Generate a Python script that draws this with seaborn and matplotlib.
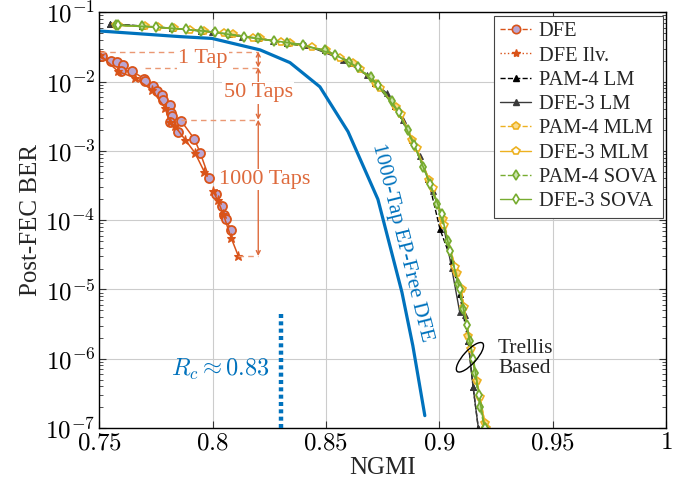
import math
import matplotlib
matplotlib.use('Agg')
import matplotlib.pyplot as plt
import seaborn as sns
from matplotlib.lines import Line2D
from matplotlib.patches import Ellipse
from matplotlib import transforms
from matplotlib.ticker import FixedLocator, FuncFormatter, LogLocator, NullFormatter

# --- data ---
# DFE (circles), several sweeps
dfe_a_x = [0.7513, 0.7551, 0.7578, 0.7604, 0.7597, 0.7642, 0.7698, 0.7701, 0.7738, 0.7753,
           0.7775, 0.7782, 0.7811, 0.7816, 0.7819, 0.7860, 0.7919, 0.7945, 0.7984]
dfe_a_y = [2.31e-2, 1.99e-2, 1.90e-2, 1.72e-2, 1.43e-2, 1.43e-2, 1.10e-2, 1.03e-2, 8.5e-3, 7.2e-3,
           6.46e-3, 5.47e-3, 4.53e-3, 3.52e-3, 3.15e-3, 2.73e-3, 1.49e-3, 9.36e-4, 4.09e-4]
dfe_b_x = [0.8014, 0.8040, 0.8051, 0.8057, 0.8081]
dfe_b_y = [2.40e-4, 1.60e-4, 1.18e-4, 1.03e-4, 7.3e-5]
dfe_c_x = [0.7811, 0.7845]
dfe_c_y = [2.61e-3, 1.88e-3]

# DFE interleaved (stars)
ilv_a_x = [0.7503, 0.7583, 0.7657, 0.7731, 0.7789, 0.7811, 0.7834, 0.7878, 0.7922, 0.7963]
ilv_a_y = [2.43e-2, 1.40e-2, 1.13e-2, 7.62e-3, 4.20e-3, 2.64e-3, 2.26e-3, 1.455e-3, 9.36e-4, 4.99e-4]
ilv_b_x = [0.8002, 0.8022, 0.8047, 0.8081, 0.8113]
ilv_b_y = [2.62e-4, 1.93e-4, 1.21e-4, 5.6e-5, 3.04e-5]

# 1000-tap EP-free DFE
ep_x = [0.7500, 0.7856, 0.7997, 0.8209, 0.8341, 0.8473, 0.8597, 0.8729, 0.8835, 0.8883, 0.8936]
ep_y = [0.0538, 0.0446, 0.0420, 0.0287, 0.0188, 8.41e-3, 1.90e-3, 2.0e-4, 9.1e-6, 1.55e-6, 1.51e-7]

# trellis based detectors
pam_lm_x = [0.7547, 0.7690, 0.7820, 0.7950, 0.8070, 0.8200, 0.8330, 0.8495, 0.8613, 0.8716,
            0.8804, 0.8878, 0.8951, 0.9003, 0.9054, 0.9090, 0.9127, 0.9149, 0.9172]
pam_lm_y = [0.0680, 0.0636, 0.0590, 0.0544, 0.0488, 0.0424, 0.0357, 0.0286, 0.0188, 9.5e-3,
            4.4e-3, 1.46e-3, 3.9e-4, 7.4e-5, 2.6e-5, 8.5e-6, 1.8e-6, 3.9e-7, 1.0e-7]
dfe3_lm_x = [0.7547, 0.7819, 0.7995, 0.8128, 0.8266, 0.8407, 0.8576, 0.8679, 0.8767, 0.8841,
             0.8914, 0.8973, 0.9010, 0.9054, 0.9090, 0.9113, 0.9127, 0.9149, 0.9172]
dfe3_lm_y = [0.0679, 0.0589, 0.0521, 0.0446, 0.0390, 0.0339, 0.0206, 0.01253, 6.84e-3, 2.82e-3,
             8.36e-4, 2.62e-4, 1.15e-4, 2.07e-5, 4.7e-6, 4.3e-6, 1.8e-6, 3.9e-7, 1.0e-7]
pam_mlm_x = [0.7572, 0.7700, 0.7830, 0.7960, 0.8090, 0.8210, 0.8340, 0.8500, 0.8620, 0.8720,
             0.8810, 0.8880, 0.8955, 0.9017, 0.9076, 0.9098, 0.9127, 0.9165, 0.9201]
pam_mlm_y = [0.0650, 0.0630, 0.0585, 0.0540, 0.0480, 0.0420, 0.0355, 0.0284, 0.0185, 9.3e-3,
             4.3e-3, 1.44e-3, 3.8e-4, 1.03e-4, 1.75e-5, 1.0e-5, 2.15e-6, 4.8e-7, 1.2e-7]
dfe3_mlm_x = [0.7580, 0.7760, 0.7900, 0.8050, 0.8180, 0.8300, 0.8440, 0.8560, 0.8650, 0.8740,
              0.8830, 0.8900, 0.8970, 0.9020, 0.9070, 0.9110, 0.9140, 0.9180, 0.9205]
dfe3_mlm_y = [0.0648, 0.0605, 0.0560, 0.0495, 0.0432, 0.0367, 0.0320, 0.0220, 0.0150, 8.2e-3,
              3.4e-3, 1.1e-3, 2.9e-4, 8.5e-5, 2.1e-5, 5.5e-6, 1.4e-6, 2.8e-7, 1.0e-7]
pam_sova_x = [0.7572, 0.7687, 0.7819, 0.7948, 0.8067, 0.8200, 0.8326, 0.8495, 0.8600, 0.8700,
              0.8790, 0.8860, 0.8930, 0.8990, 0.9039, 0.9083, 0.9105, 0.9135, 0.9157, 0.9179, 0.9201]
pam_sova_y = [0.0650, 0.0635, 0.0589, 0.0543, 0.0487, 0.0423, 0.0358, 0.0287, 0.0195, 0.0115,
              5.3e-3, 2.0e-3, 5.9e-4, 1.7e-4, 5.0e-5, 1.19e-5, 5.2e-6, 1.82e-6, 6.3e-7, 2.0e-7, 1.0e-7]
dfe3_sova_x = [0.7580, 0.7750, 0.7880, 0.8010, 0.8140, 0.8270, 0.8400, 0.8540, 0.8640, 0.8730,
               0.8820, 0.8890, 0.8960, 0.9010, 0.9047, 0.9090, 0.9120, 0.9150, 0.9175, 0.9200]
dfe3_sova_y = [0.0652, 0.0612, 0.0566, 0.0517, 0.0442, 0.0388, 0.0341, 0.0245, 0.0160, 8.8e-3,
               3.6e-3, 1.2e-3, 3.3e-4, 1.23e-4, 3.6e-5, 1.0e-5, 3.1e-6, 1.0e-6, 3.0e-7, 1.0e-7]

# tap annotation levels (BER) and code rate threshold
tap_levels = [0.0271, 0.01596, 2.82e-3, 3.04e-5]
tap_starts = [0.7503, 0.7701, 0.7860, 0.8113]
tap_x = 0.8201
rc = 0.83
rc_top = 4.8e-6

x_ticks = [0.75, 0.8, 0.85, 0.9, 0.95, 1.0]
x_tick_labels = ['0.75', '0.8', '0.85', '0.9', '0.95', '1']

RED = '#D95319'
LILAC = '#B9A6D3'
BLUE = '#0072BD'
YEL = '#EDB120'
GRN = '#77AC30'
DARK = '#3a3a3a'
ANN = '#DE6A3C'
ANN_L = '#EA9873'

sns.set_theme(style='ticks')
plt.rcParams['font.family'] = ['Liberation Serif', 'DejaVu Serif']
plt.rcParams['mathtext.fontset'] = 'cm'

fig = plt.figure(figsize=(6.94, 4.87), dpi=100)
ax = fig.add_axes([0.1432, 0.1211, 0.8164, 0.8536])
ax.set_yscale('log')


def draw(x, y, **kw):
    sns.lineplot(x=x, y=y, ax=ax, estimator=None, sort=False, errorbar=None, legend=False, **kw)


dfe_kw = dict(color=RED, linewidth=1.1, marker='o', markersize=6.5,
              markerfacecolor=LILAC, markeredgecolor=RED, markeredgewidth=1.3)
for xs, ys in [(dfe_a_x, dfe_a_y), (dfe_b_x, dfe_b_y), (dfe_c_x, dfe_c_y)]:
    draw(xs, ys, **dfe_kw)
ilv_kw = dict(color=RED, linewidth=1.1, marker='*', markersize=6.5,
              markerfacecolor=RED, markeredgecolor=RED, markeredgewidth=0.8)
for xs, ys in [(ilv_a_x, ilv_a_y), (ilv_b_x, ilv_b_y)]:
    draw(xs, ys, **ilv_kw)

draw(ep_x, ep_y, color=BLUE, linewidth=2.3)

draw(pam_lm_x, pam_lm_y, color='black', linewidth=1.0, linestyle='--', marker='^', markersize=5,
     markerfacecolor='black', markeredgecolor='black', markeredgewidth=0.6)
draw(dfe3_lm_x, dfe3_lm_y, color=DARK, linewidth=1.0, marker='^', markersize=5,
     markerfacecolor=DARK, markeredgecolor=DARK, markeredgewidth=0.6)
draw(pam_mlm_x, pam_mlm_y, color=YEL, linewidth=1.0, linestyle='--', marker='p', markersize=6,
     markerfacecolor='#F9DC8E', markeredgecolor=YEL, markeredgewidth=1.2)
draw(dfe3_mlm_x, dfe3_mlm_y, color=YEL, linewidth=1.0, marker='p', markersize=6,
     markerfacecolor='white', markeredgecolor=YEL, markeredgewidth=1.2)
draw(pam_sova_x, pam_sova_y, color=GRN, linewidth=1.2, linestyle='--', marker='d', markersize=5.5,
     markerfacecolor='#CDE3AE', markeredgecolor=GRN, markeredgewidth=1.3)
draw(dfe3_sova_x, dfe3_sova_y, color=GRN, linewidth=1.2, marker='d', markersize=5.5,
     markerfacecolor='white', markeredgecolor=GRN, markeredgewidth=1.3)

# code rate threshold
ax.vlines(rc, 1e-7, rc_top, color=BLUE, linewidth=3.2, linestyles=[(0, (0.9, 0.75))], zorder=3)
ax.text(0.8253, 7.1e-7, r'$R_c \approx 0.83$', ha='right', va='center', color=BLUE, fontsize=17.5)

ax.text(0.8834, 4.74e-5, '1000-Tap EP-Free DFE', rotation=-76, rotation_mode='anchor',
        ha='center', va='center', color=BLUE, fontsize=15.5)

# tap annotations
for lvl, x0 in zip(tap_levels, tap_starts):
    ax.plot([x0, tap_x], [lvl, lvl], color=ANN_L, linestyle=(0, (4, 3)), linewidth=1.0, zorder=2)
for hi, lo in zip(tap_levels[:-1], tap_levels[1:]):
    ax.annotate('', xy=(tap_x, hi), xytext=(tap_x, lo),
                arrowprops=dict(arrowstyle='<->', color=ANN, lw=1.0, shrinkA=0, shrinkB=0,
                                mutation_scale=7))
box = dict(facecolor='white', edgecolor='none', pad=1.0)
ax.text(0.7958, 0.0212, '1 Tap', ha='center', va='center', color=ANN, fontsize=16, bbox=box, zorder=4)
ax.text(0.8201, 6.9e-3, '50 Taps', ha='center', va='center', color=ANN, fontsize=16, bbox=box, zorder=4)
ax.text(0.8231, 3.87e-4, '1000 Taps', ha='center', va='center', color=ANN, fontsize=16, bbox=box, zorder=4)

# trellis based marker
trans = fig.dpi_scale_trans + transforms.ScaledTranslation(
    (0.9135 - 0.75) / 0.25, (-5.979 + 7) / 6, ax.transAxes)
ax.add_patch(Ellipse((0, 0), width=0.38, height=0.13, angle=48, fill=False,
                     edgecolor='black', linewidth=1.0, transform=trans, zorder=6))
ax.text(0.9259, 1.0e-6, 'Trellis\nBased', ha='left', va='center', fontsize=15.5, linespacing=1.1)

# axes styling
ax.set_xlim(0.75, 1.0)
ax.set_ylim(1e-7, 1e-1)
ax.xaxis.set_major_locator(FixedLocator(x_ticks))
ax.xaxis.set_major_formatter(FuncFormatter(
    lambda v, p: '$' + x_tick_labels[p] + '$' if p is not None and p < len(x_tick_labels) else ''))
ax.yaxis.set_major_locator(LogLocator(base=10, numticks=10))
ax.yaxis.set_major_formatter(FuncFormatter(lambda v, p: r'$10^{%d}$' % round(math.log10(v))))
ax.yaxis.set_minor_locator(LogLocator(base=10, subs=range(2, 10), numticks=20))
ax.yaxis.set_minor_formatter(NullFormatter())
ax.tick_params(which='both', direction='in', top=True, right=True, colors='#333333', labelcolor='black')
ax.tick_params(which='major', length=5, width=0.8, labelsize=18, pad=3)
ax.tick_params(which='minor', length=3, width=0.6)
ax.grid(True, which='major', color='#cccccc', linewidth=0.8)
ax.set_axisbelow(True)
for s in ax.spines.values():
    s.set_color('black')
    s.set_linewidth(1.0)

ax.set_xlabel('NGMI', fontsize=18, labelpad=2)
ax.set_ylabel('Post-FEC BER', fontsize=18, labelpad=2)

handles = [
    Line2D([], [], color=RED, ls='--', lw=1, marker='o', ms=6, mfc=LILAC, mec=RED, mew=1.2),
    Line2D([], [], color=RED, ls=':', lw=1, marker='*', ms=6, mfc=RED, mec=RED),
    Line2D([], [], color='black', ls='--', lw=1, marker='^', ms=5, mfc='black', mec='black'),
    Line2D([], [], color=DARK, ls='-', lw=1, marker='^', ms=5, mfc=DARK, mec=DARK),
    Line2D([], [], color=YEL, ls='--', lw=1, marker='p', ms=6, mfc='#F9DC8E', mec=YEL, mew=1.2),
    Line2D([], [], color=YEL, ls='-', lw=1, marker='p', ms=6, mfc='white', mec=YEL, mew=1.2),
    Line2D([], [], color=GRN, ls='--', lw=1, marker='d', ms=5.5, mfc='#CDE3AE', mec=GRN, mew=1.2),
    Line2D([], [], color=GRN, ls='-', lw=1, marker='d', ms=5.5, mfc='white', mec=GRN, mew=1.2),
]
labels = ['DFE', 'DFE Ilv.', 'PAM-4 LM', 'DFE-3 LM', 'PAM-4 MLM', 'DFE-3 MLM',
          'PAM-4 SOVA', 'DFE-3 SOVA']
leg = ax.legend(handles, labels, loc='upper right', bbox_to_anchor=(0.994, 0.992),
                borderaxespad=0, fontsize=14.8, frameon=True, fancybox=False, framealpha=1,
                edgecolor='#444444', handlelength=1.5, handletextpad=0.35, labelspacing=0.24,
                borderpad=0.3)
leg.get_frame().set_linewidth(0.8)
leg.set_zorder(10)

fig.savefig('out.png', dpi=100)
